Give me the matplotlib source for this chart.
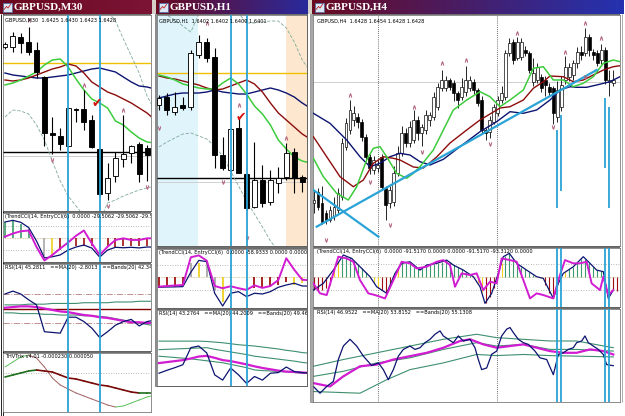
import numpy as np
import matplotlib.pyplot as plt
from matplotlib.patches import Rectangle
from matplotlib.colors import LinearSegmentedColormap

W, H = 625, 416

# ---------------- GBPUSD M30 (19 bars, price in pips above chart floor) ----------------
m30_open = [164, 164, 174, 169, 161, 134, 78, 75, 65, 102, 102, 91, 62, 18, 35, 52, 58, 67, 63]
m30_high = [169, 179, 178, 184, 169, 135, 94, 83, 104, 103, 121, 96, 63, 48, 59, 96, 66, 69, 66]
m30_low = [162, 159, 158, 156, 133, 65, 57, 61, 64, 89, 81, 63, 15, 11, 29, 44, 48, 29, 30]
m30_close = [167, 175, 168, 159, 139, 78, 76, 67, 103, 101, 89, 64, 17, 33, 53, 57, 65, 37, 56]
m30_ma_blue = [138, 136, 135, 134, 133, 133, 134, 135, 136, 138, 140, 142, 143, 141, 139, 134, 129, 125, 124, 122]
m30_ma_red = [131, 130, 131, 133, 136, 139, 142, 144, 147, 145, 138, 129, 124, 119, 116, 112, 108, 103, 98, 91]
m30_ma_green = [126, 128, 131, 135, 139, 146, 151, 152, 144, 132, 121, 112, 108, 103, 90, 86, 79, 73, 69, 68]
m30_bb_upper = [230, 235, 240, 245, 250, 255, 255, 250, 245, 240, 235, 225, 215, 200, 190, 172, 155, 138, 115, 100]
m30_bb_lower = [94, 101, 100, 97, 86, 71, 50, 30, 15, 5, -5, -10, -10, 8, 11, 15, 18, 21, 23, 25]
m30_up_bars, m30_up_lvl = [3, 10, 15], [191, 126, 101]
m30_dn_bars, m30_dn_lvl = [6, 13, 18], [51, 5, 24]
m30_tick = (11.6, 108)
m30_yellow, m30_black, m30_grey = 148, 59, 55
m30_signal_bars = [8, 12]
m30_cci_trend = [107, 118, 105, 70, -20, -133, -125, -113, -80, -60, -47, -67, -127, -80, -62, -65, -62, -66, -60, -60]
m30_cci_entry = [9, 30, 45, 50, -60, -150, -113, -70, -30, 15, 50, -36, -113, -58, -13, -2, -13, -13, -2, -2]
m30_cci_hist = [110, 115, 95, 60, 0, -120, -120, -80, -60, -55, -50, -55, 0, -55, -60, -55, -50, -50, -50]
m30_cci_codes = "ggggnkyrrrrrnrrrrrr"
m30_rsi = [70, 74, 70, 62, 55, 18, 17, 16, 38, 38, 32, 23, 10, 18, 27, 32, 35, 26, 32, 34]
m30_rsi_ma = [51, 52, 53, 53, 52, 50, 48, 46, 45, 43, 41, 40, 38, 37, 35, 33, 31, 31, 30, 30]
m30_rsi_up = [55, 55, 55, 56, 56, 56, 57, 57, 57, 57, 58, 58, 58, 58, 59, 59, 59, 60, 60, 60]
m30_rsi_lo = [44, 44, 43, 43, 43, 42, 42, 41, 41, 41, 40, 40, 39, 38, 36, 34, 32, 30, 28, 26]
m30_trix_main = [35, 37, 39, 41, 42, 41, 40, 37, 34, 33, 31, 29, 27, 26, 24, 22, 20, 19, 19, 19]
m30_trix_sig = [45, 50, 55, 57, 54, 45, 34, 27, 23, 19, 16, 13, 10, 7, 5, 6, 9, 12, 15, 17]
m30_trix_level = 39

# ---------------- GBPUSD H1 (19 bars) ----------------
h1_open = [141, 149, 134, 141, 139, 191, 204, 189, 91, 76, 118, 72, 39, 66, 44, 63, 69, 94, 69]
h1_high = [151, 153, 154, 149, 196, 211, 208, 198, 109, 118, 128, 73, 104, 81, 76, 79, 103, 98, 71]
h1_low = [136, 131, 131, 136, 136, 188, 184, 78, 76, 74, 73, 36, 38, 39, 41, 53, 66, 53, 54]
h1_close = [148, 136, 139, 138, 193, 204, 188, 91, 78, 117, 73, 38, 66, 43, 66, 68, 93, 68, 64]
h1_ma_blue = [148, 150, 152, 153, 153, 153, 154, 156, 154, 153, 152, 152, 154, 156, 158, 156, 153, 149, 143, 138]
h1_ma_red = [170, 168, 167, 165, 163, 161, 158, 156, 157, 160, 163, 166, 162, 154, 143, 133, 126, 119, 112, 107]
h1_ma_green = [171, 169, 166, 162, 160, 158, 157, 157, 163, 168, 162, 152, 140, 132, 121, 106, 97, 89, 85, 83]
h1_bb_upper = [235, 231, 226, 220, 214, 232, 240, 245, 245, 240, 233, 223, 223, 224, 225, 225, 218, 204, 186, 175]
h1_bb_lower = [99, 104, 108, 112, 113, 110, 107, 100, 90, 75, 60, 45, 32, 19, 5, -5, -15, -20, -25, -30]
h1_up_bars, h1_up_lvl = [6, 10, 16], [223, 141, 108]
h1_dn_bars, h1_dn_lvl = [0, 8, 11], [118, 64, 8]
h1_tick = (10.3, 129)
h1_yellow, h1_black, h1_grey = 173, 68, 64
h1_sessions = [(-0.5, 4.9, '#dff5fb'), (16.0, 19.0, '#fde8cf')]
h1_signal_bars = [9, 11]
h1_cci_trend = [-80, -78, -77, -75, 40, 135, 125, -128, -230, -128, -115, -155, -128, -134, -115, -80, -62, -48, -70, -70]
h1_cci_entry = [-75, -70, -66, -62, 160, 175, 133, -70, -88, -72, -88, -101, -65, -85, -70, -22, 152, 60, -20, -25]
h1_cci_hist = [-88, -80, -80, -60, 112, 112, 133, -101, -195, 0, 0, 0, -88, -80, -80, -61, -35, -61, -45]
h1_cci_codes = "rrrrkykkynnnrrrrryy"
h1_rsi = [43.3, 44.2, 45.0, 45.9, 51.1, 51.6, 49.5, 42.8, 41.2, 44.9, 42.8, 40.2, 42.3, 41.2, 43.3, 43.5, 45.2, 43.8, 43.5, 43.3]
h1_rsi_ma = [46.4, 46.7, 47.0, 47.3, 47.8, 48.4, 48.6, 48.0, 47.3, 47.0, 46.5, 46.0, 45.4, 44.9, 44.5, 44.1, 43.8, 43.7, 43.5, 43.4]
h1_rsi_up = [53.1, 53.1, 53.1, 53.1, 53.1, 53.1, 53.0, 52.8, 52.6, 52.3, 52.0, 51.8, 51.6, 51.3, 51.0, 50.7, 50.3, 50.0, 49.6, 49.4]
h1_rsi_mid = [50.5, 50.6, 50.7, 50.8, 50.9, 51.0, 51.1, 50.6, 50.2, 49.8, 49.4, 49.0, 48.5, 48.2, 47.9, 47.6, 47.3, 47.0, 46.6, 46.3]
h1_rsi_lo = [48.5, 48.3, 48.1, 47.9, 47.7, 47.4, 47.1, 46.8, 46.5, 46.0, 45.5, 45.0, 44.3, 44.1, 44.0, 43.8, 43.7, 43.5, 43.3, 43.2]

# ---------------- GBPUSD H4 (76 bars) ----------------
h4_open = [43, 54, 43, 33, 26, 30, 36, 49, 99, 116, 126, 129, 124, 109, 89, 76, 78, 89, 58, 43,
           44, 73, 93, 113, 103, 106, 126, 113, 116, 126, 129, 139, 158, 158, 166, 163, 153, 149, 154, 158,
           164, 156, 146, 116, 114, 124, 133, 146, 149, 193, 204, 188, 189, 196, 193, 164, 166, 169, 166, 159,
           158, 129, 139, 166, 169, 171, 183, 194, 193, 209, 194, 193, 186, 196, 164, 163]
h4_high = [56, 58, 60, 36, 40, 49, 58, 108, 128, 146, 140, 133, 127, 112, 92, 90, 86, 92, 60, 60,
           80, 100, 120, 118, 125, 136, 130, 122, 136, 134, 154, 163, 176, 170, 168, 166, 155, 168, 180, 170,
           167, 158, 150, 118, 130, 142, 150, 160, 196, 208, 207, 209, 208, 200, 195, 188, 183, 172, 170, 163,
           160, 165, 170, 190, 183, 186, 199, 200, 218, 212, 197, 196, 202, 199, 176, 176]
h4_low = [33, 36, 22, 22, 24, 26, 33, 46, 96, 112, 120, 118, 105, 85, 72, 72, 74, 56, 26, 38,
          40, 70, 90, 99, 99, 103, 106, 100, 112, 120, 126, 136, 155, 155, 156, 145, 138, 146, 150, 155,
          152, 140, 113, 106, 108, 122, 130, 143, 146, 190, 182, 186, 186, 190, 173, 160, 163, 154, 150, 150,
          122, 124, 135, 162, 165, 166, 178, 186, 190, 190, 186, 180, 182, 162, 150, 160]
h4_close = [46, 39, 24, 26, 36, 39, 53, 103, 123, 136, 133, 124, 109, 89, 78, 86, 81, 59, 41, 56,
            73, 93, 113, 103, 119, 126, 113, 119, 131, 131, 149, 159, 166, 166, 159, 153, 146, 159, 166, 166,
            156, 143, 116, 113, 126, 139, 146, 153, 193, 203, 186, 204, 204, 193, 176, 173, 179, 158, 161, 154,
            133, 156, 161, 179, 179, 183, 194, 191, 209, 196, 191, 183, 196, 166, 166, 166]
h4_ma_blue_x = [-0.16, 4.01, 8.19, 11.53, 14.04, 16.54, 19.05, 21.56, 24.06, 26.57, 29.08, 32.42, 36.59,
                41.61, 45.78, 49.13, 52.47, 55.81, 59.15, 61.66, 64.16, 65.83, 68.34, 70.85, 74.19, 76.69]
h4_ma_blue = [132.7, 122.7, 106, 89.3, 79.3, 82.7, 89.3, 92.7, 91, 84.3, 81, 86.7, 99.3,
              114.3, 124.3, 134.3, 132.7, 136, 146, 156, 159.3, 158.7, 158.7, 161, 164.3, 169.3]
h4_ma_red_x = [-0.16, 3.18, 6.52, 9.86, 12.37, 14.87, 17.38, 19.89, 21.56, 24.9, 27.4, 30.75, 34.09, 38.27, 41.61,
               44.95, 46.62, 49.13, 52.47, 54.97, 57.48, 59.15, 62.49, 65, 67.5, 70.01, 72.52, 75.02, 76.69]
h4_ma_red = [109.3, 89.3, 69.3, 59.3, 66, 82.7, 89.3, 87.7, 86, 79, 78, 89, 103, 116, 126,
             134, 138, 139.3, 146, 157.7, 164.3, 170, 169.3, 164.3, 166, 171, 176, 179.3, 180.3]
h4_ma_green_x = [-0.16, 2.34, 5.68, 8.61, 10.7, 13.2, 14.87, 16.54, 18.21, 20.72, 23.23, 24.9, 26.57, 29.91, 32.42, 34.92,
                 38.27, 41.61, 44.11, 46.62, 49.13, 52.47, 54.97, 57.48, 59.99, 62.49, 65, 67.5, 70.01, 72.52, 75.02, 76.69]
h4_ma_green = [87.7, 69.3, 52.7, 46, 59.3, 86, 97.7, 99.3, 89.3, 72.7, 67.7, 72.7, 79.3, 96, 116, 136,
               146, 154.3, 149.3, 139.3, 146, 156, 177.7, 179.3, 166, 166, 159.3, 162.7, 169.3, 182.7, 186, 184.3]
h4_trend_up = ([0.67, 70.85], [19.3, 176])
h4_trend_dn = ([-0.16, 16.13], [56, 9.3])
h4_up_bars = [9, 25, 32, 38, 51, 63, 68, 72]
h4_up_lvl = [151, 139, 183, 186, 213, 194, 223, 208]
h4_dn_bars = [3, 14, 19, 27, 44, 60, 68]
h4_dn_lvl = [6, 64, 21, 94, 102, 119, 169]
h4_grey = 164
h4_day_breaks = [16.0, 45.9]
h4_signal_bars = [61, 62, 73, 74]
h4_signal_lo = [38, 55, 78, 38]
h4_signal_hi = [116, 131, 148, 139]
h4_cci_trend_x = [-0.16, 2.34, 4.85, 7.35, 9.44, 11.53, 14.04, 15.71, 18.21, 20.3, 21.97, 24.06, 26.57, 28.24, 30.75,
                  33.25, 34.92, 37.43, 39.94, 41.61, 42.86, 44.53, 46.2, 47.45, 48.96, 50.8, 53.3, 55.81, 57.48,
                  59.99, 61.24, 62.49, 65, 67.5, 69.18, 70.85, 72.52, 73.77, 75.02]
h4_cci_trend = [-103, -51, 51, 167, 141, 77, 0, -77, -128, 26, 103, 115, 51, 90, 103, 128, 90, 51, 0, -77, -205,
                -128, 26, 154, 180, 103, 51, 0, -13, -167, -51, 26, 77, 154, 103, 51, 39, -167, -103]
h4_cci_entry_x = [-0.16, 1.51, 3.18, 4.85, 6.1, 8.19, 9.86, 11.53, 13.62, 15.29, 17.8, 20.3, 21.97, 24.06, 25.73,
                  28.24, 30.75, 32.42, 34.09, 35.34, 37.01, 39.1, 40.77, 42.44, 44.11, 45.78, 47.04, 49.13, 50.8,
                  52.47, 54.14, 55.81, 57.48, 59.99, 61.24, 62.91, 65, 66.67, 68.34, 69.59, 71.68, 72.52, 73.77, 75.02]
h4_cci_entry = [-51, -128, -141, 26, 154, 141, 115, -26, -128, -141, -167, 0, 115, 103, 64, 77, 115, 128, 90, -77,
                26, 13, 26, -103, -38, -51, 141, 128, 115, -26, -167, -128, -141, -167, -26, 128, 103, 103, 115,
                -51, -103, 0, -141, -103]
h4_cci_hist = [-100, -105, -100, -90, -60, 60, 110, 150, 160, 148, 124, 93, 67, 36, 0, -44, -83, -103, -124, -74,
               3, 58, 103, 109, 115, 77, 66, 64, 85, 96, 101, 106, 116, 126, 111, 89, 73, 58, 40, 19,
               -3, -49, -120, -200, -153, -85, 7, 108, 163, 179, 137, 99, 78, 57, 37, 16, -1, -9, -60, -126,
               -167, -75, -3, 38, 57, 77, 107, 138, 138, 108, 77, 48, 43, -70, -144, -103, -110]
h4_cci_codes = "rrrrryygggggggnyyrrryyggggggggggggggggggnyyrrryyggggggggyyrrrrrygggggggggyrrr"
h4_rsi_x = [-0.16, 1.51, 3.18, 4.85, 6.1, 7.35, 9.03, 10.7, 12.37, 14.46, 16.13, 17.38, 18.63, 19.89, 21.14, 22.39,
            24.06, 25.32, 26.57, 27.82, 29.08, 30.33, 31.58, 32.42, 33.67, 34.92, 36.18, 37.43, 39.1, 40.35, 41.19,
            42.02, 43.28, 44.53, 45.78, 47.04, 48.29, 49.13, 49.96, 51.21, 52.47, 53.72, 55.39, 56.64, 58.32,
            59.99, 61.24, 62.49, 63.74, 65, 65.83, 67.09, 67.92, 68.76, 70.01, 71.26, 72.52, 73.35, 75.02]
h4_rsi = [35.8, 32.2, 35.8, 38.5, 50.2, 57.4, 61, 57.4, 52, 47, 48.4, 44.8, 39.4, 44.8, 52, 55.6, 57.4, 55.6, 56.5,
          59.2, 61, 63.7, 65.5, 62.8, 61, 59.2, 62.8, 60.1, 61, 56.5, 50.2, 44.8, 45.7, 53, 54.7, 62.8, 66.4, 67.3,
          64.6, 61, 59.2, 58.3, 54.7, 51.1, 50.2, 42.1, 52.9, 53.8, 55.6, 56.5, 59.2, 60.1, 62.8, 59.2, 57.4, 55.6,
          52.9, 47.5, 46.9]
h4_rsi_ma_x = [-0.16, 4.01, 7.35, 11.53, 15.71, 19.89, 24.06, 28.24, 32.42, 36.59, 39.1, 42.44, 45.78, 49.13,
               52.47, 55.81, 59.15, 62.49, 65.83, 69.18, 72.52, 75.02]
h4_rsi_ma = [37.6, 35.8, 41.2, 46.6, 47.5, 50.2, 52, 53.8, 56.5, 60.1, 61, 58.3, 56.5, 57.4, 58.3, 56.5, 54.7,
             53.8, 53.8, 55.6, 54.7, 52.9]
h4_band_x = [-0.16, 7.35, 15.71, 24.06, 32.42, 40.77, 45.78, 52.47, 59.15, 65.83, 75.02]
h4_band_up = [46.6, 50.2, 53.8, 57.4, 61, 63.7, 61.9, 61, 60.1, 60.1, 56.5]
h4_band_mid = [41.2, 43.9, 48.4, 51.1, 55.6, 59.2, 57.4, 58.3, 55.6, 55.6, 54.7]
h4_band_lo_x = [-0.16, 11.53, 18.21, 24.06, 32.42, 40.77, 45.78, 52.47, 59.15, 65.83, 75.02]
h4_band_lo = [33.1, 32.2, 39.4, 44.8, 48.4, 52.9, 52.3, 52.9, 52.3, 52, 51.6]

CYAN = '#2aa3d6'
NAVY = '#0c1470'
DRED = '#8c0c0c'
LIME = '#3ccc3c'
MAGENTA = '#d21cd2'
BAND = '#3f8f6f'
MARK = '#b0607c'
HIST = {'g': '#3c9a6c', 'y': '#f0d020', 'r': '#a01010', 'k': '#a8a8a8'}

fig = plt.figure(figsize=(W / 100, H / 100), dpi=100)
fig.patch.set_facecolor('white')
bg = fig.add_axes([0, 0, 1, 1], zorder=-10)
bg.axis('off')


def panel(x0, y0, x1, y1, xlim, ylim):
    ax = fig.add_axes([x0 / W, 1 - y1 / H, (x1 - x0) / W, (y1 - y0) / H])
    ax.set_xlim(*xlim)
    ax.set_ylim(*ylim)
    ax.set_xticks([])
    ax.set_yticks([])
    for s in ax.spines.values():
        s.set_linewidth(0.5)
        s.set_color('#606060')
    return ax


def label(ax, text):
    ax.text(0.012, 0.985, text, transform=ax.transAxes, fontsize=3.6, va='top', ha='left',
            clip_on=True, zorder=10)


def candles(ax, o, h, l, c, width, lw):
    o, h, l, c = map(np.asarray, (o, h, l, c))
    x = np.arange(len(o))
    ax.vlines(x, l, h, color='black', lw=lw, zorder=3)
    lo = np.minimum(o, c)
    size = np.maximum(np.abs(c - o), 1.0)
    face = np.where(c >= o, 'white', 'black')
    ax.bar(x, size, width, bottom=lo, color=face, edgecolor='black', linewidth=lw * 0.8, zorder=4)


def fractals(ax, ux, uy, dx, dy):
    ax.scatter(ux, uy, marker='$\\wedge$', s=7, color=MARK, linewidths=0.3, zorder=6)
    ax.scatter(dx, dy, marker='$\\vee$', s=7, color=MARK, linewidths=0.3, zorder=6)


def cci_hist(ax, vals, codes, lw):
    assert len(vals) == len(codes)
    for i, (v, code) in enumerate(zip(vals, codes)):
        if code != 'n':
            ax.vlines(i, 0, v, color=HIST[code], lw=lw, zorder=2)


def slope_line(ax, vals, up_col, dn_col, lw):
    for i in range(len(vals) - 1):
        col = up_col if vals[i + 1] >= vals[i] else dn_col
        ax.plot([i, i + 1], [vals[i], vals[i + 1]], color=col, lw=lw, solid_capstyle='round')


def signals(axes, bars):
    for ax in axes:
        for b in bars:
            ax.axvline(b, color=CYAN, lw=1.3, zorder=7)


# ---- window frames and title bars ----
bg.add_patch(Rectangle((0, 0), W, H, fc='white', ec='none'))
bg.add_patch(Rectangle((152, 0), 4, 14, fc='#d4d0c8', ec='none'))
bg.add_patch(Rectangle((308, 0), 4, 14, fc='#d4d0c8', ec='none'))
bg.add_patch(Rectangle((3, 14), 148, 398, fc='#6e6e6e', ec='none'))
bg.add_patch(Rectangle((157, 14), 151, 373, fc='#6e6e6e', ec='none'))
bg.add_patch(Rectangle((154.5, 14), 2.5, 373, fc='#8c8c8c', ec='none'))
bg.add_patch(Rectangle((313, 14), 307, 388, fc='#6e6e6e', ec='none'))
bg.add_patch(Rectangle((310, 14), 3, 388, fc='#a8a8a8', ec='#707070', lw=0.4))
bg.vlines([0.8, 2.6], 14, 416, color='black', lw=0.6)
bg.vlines([621.5], 14, 402, color='#a0a0a0', lw=0.6)


def title_bar(x0, x1, c0, c1, text):
    cm = LinearSegmentedColormap.from_list('t', [c0, c1])
    bg.imshow(np.linspace(0, 1, 128)[None, :], cmap=cm, extent=(x0, x1, 14, 0), aspect='auto', zorder=1)
    bg.add_patch(Rectangle((x0 + 2.5, 2.5), 9, 9, fc='#dce6f4', ec='#4a6ea8', lw=0.5, zorder=2))
    bg.plot([x0 + 4, x0 + 6.5, x0 + 8, x0 + 10.5], [9.5, 6.5, 8, 4.5], color='#c02020', lw=0.6, zorder=3)
    bg.text(x0 + 14, 7.6, text, color='white', fontsize=8, fontweight='bold', family='Liberation Serif',
            va='center', ha='left', zorder=3)


title_bar(0, 152, '#6a0a20', '#7c1436', 'GBPUSD,M30')
title_bar(156, 308, '#6a0a20', '#2a2a9c', 'GBPUSD,H1')
title_bar(312, 624, '#6a0a20', '#2432b0', 'GBPUSD,H4')
bg.set_xlim(0, W)
bg.set_ylim(H, 0)

# ---- M30 window ----
xl = (-0.25, 18.5)
m_main = panel(3, 15, 151, 211, xl, (0, 196))
m_cci = panel(3, 213, 151, 262, xl, (-160, 167))
m_rsi = panel(3, 264, 151, 351, xl, (-8.6, 111.4))
m_trx = panel(3, 353, 151, 412, xl, (0, 59))

x20 = np.arange(20)
m_main.axhline(m30_yellow, color='#f0c000', lw=1.0)
m_main.axhline(m30_grey, color='#c8c8c8', lw=0.6)
m_main.axhline(m30_black, color='black', lw=1.0)
m_main.plot(x20, m30_bb_upper, color='#7fa89a', lw=0.6, ls=(0, (4, 2)))
m_main.plot(x20, m30_bb_lower, color='#7fa89a', lw=0.6, ls=(0, (4, 2)))
m_main.plot(x20, m30_ma_blue, color=NAVY, lw=1.0)
m_main.plot(x20, m30_ma_red, color=DRED, lw=1.0)
m_main.plot(x20, m30_ma_green, color=LIME, lw=1.1)
candles(m_main, m30_open, m30_high, m30_low, m30_close, 0.62, 0.8)
fractals(m_main, m30_up_bars, m30_up_lvl, m30_dn_bars, m30_dn_lvl)
m_main.text(*m30_tick, '\u2714', color='#d41010', fontsize=9, ha='center', va='center', zorder=8)
label(m_main, 'GBPUSD,M30  1.6425 1.6430 1.6423 1.6428')

m_cci.axhline(0, color='#c8b88a', lw=0.6, ls=(0, (1, 1)))
for lv in (80, -80):
    m_cci.axhline(lv, color='#a0a0a0', lw=0.6, ls=(0, (1, 2)))
cci_hist(m_cci, m30_cci_hist, m30_cci_codes, 1.2)
m_cci.plot(x20, m30_cci_trend, color=NAVY, lw=0.9, zorder=4)
m_cci.plot(x20, m30_cci_entry, color=MAGENTA, lw=1.4, zorder=5)
label(m_cci, '(TrendCCI(14, EntryCCI(6)  0.0000 -29.5062 -29.5062 -29.5062 -29.5062')

for lv in (70, 30):
    m_rsi.axhline(lv, color='#c09090', lw=0.7, ls='-.')
m_rsi.axhline(50, color='#800000', lw=1.0)
m_rsi.plot(x20, m30_rsi_up, color=BAND, lw=0.8)
m_rsi.plot(x20, m30_rsi_lo, color=BAND, lw=0.8)
m_rsi.plot(x20, m30_rsi_ma, color=MAGENTA, lw=1.6)
m_rsi.plot(x20, m30_rsi, color=NAVY, lw=0.9)
label(m_rsi, 'RSI(14) 45.2811   ==MA(20) -2.8013   ==Bands(20) 42.3468')

m_trx.axhline(m30_trix_level, color='#a0a0a0', lw=0.6, ls=(0, (1, 2)))
slope_line(m_trx, m30_trix_sig, '#5cc05c', '#a06060', 0.7)
slope_line(m_trx, m30_trix_main, '#1f6f1f', '#7a0a0a', 1.2)
label(m_trx, 'THVTrix v4.01 -0.000230 0.000050')
signals([m_main, m_cci, m_rsi, m_trx], m30_signal_bars)

# ---- H1 window ----
xl = (-0.25, 18.6)
h_main = panel(157, 15, 307, 246, xl, (0, 231))
h_cci = panel(157, 249, 307, 308, xl, (-246, 226))
h_rsi = panel(157, 310, 307, 386, xl, (39.4, 62.6))

for a, b, col in h1_sessions:
    h_main.axvspan(a, b, color=col, lw=0, zorder=0)
h_main.axhline(h1_yellow, color='#f0c000', lw=1.0)
h_main.axhline(h1_grey, color='#c8c8c8', lw=0.6)
h_main.axhline(h1_black, color='black', lw=1.0)
h_main.plot(x20, h1_bb_upper, color='#7fa89a', lw=0.6, ls=(0, (4, 2)))
h_main.plot(x20, h1_bb_lower, color='#7fa89a', lw=0.6, ls=(0, (4, 2)))
h_main.plot(x20, h1_ma_blue, color=NAVY, lw=1.0)
h_main.plot(x20, h1_ma_red, color=DRED, lw=1.0)
h_main.plot(x20, h1_ma_green, color=LIME, lw=1.1)
candles(h_main, h1_open, h1_high, h1_low, h1_close, 0.62, 0.8)
fractals(h_main, h1_up_bars, h1_up_lvl, h1_dn_bars, h1_dn_lvl)
h_main.text(*h1_tick, '\u2714', color='#d41010', fontsize=9, ha='center', va='center', zorder=8)
label(h_main, 'GBPUSD,H1  1.6402 1.6402 1.6400 1.6401')

h_cci.axhline(0, color='#c8b88a', lw=0.6, ls=(0, (1, 1)))
for lv in (100, -100):
    h_cci.axhline(lv, color='#a0a0a0', lw=0.6, ls=(0, (1, 2)))
cci_hist(h_cci, h1_cci_hist, h1_cci_codes, 1.3)
h_cci.plot(x20, h1_cci_trend, color=NAVY, lw=0.9, zorder=4)
h_cci.plot(x20, h1_cci_entry, color=MAGENTA, lw=1.4, zorder=5)
label(h_cci, '(TrendCCI(14, EntryCCI(6)  0.0000 -58.9333 0.0000 0.0000 -58.9334')

h_rsi.plot(x20, h1_rsi_up, color=BAND, lw=0.8)
h_rsi.plot(x20, h1_rsi_mid, color=BAND, lw=0.8)
h_rsi.plot(x20, h1_rsi_lo, color=BAND, lw=0.8)
h_rsi.plot(x20, h1_rsi_ma, color=MAGENTA, lw=1.6)
h_rsi.plot(x20, h1_rsi, color=NAVY, lw=0.9)
label(h_rsi, 'RSI(14) 43.2764   ==MA(20) 44.2009   ==Bands(20) 49.4636')
signals([h_main, h_cci, h_rsi], h1_signal_bars)

# ---- H4 window ----
xl = (-0.25, 76.7)
f_main = panel(313, 15, 620, 246, xl, (0, 231))
f_cci = panel(313, 248, 620, 307, xl, (-233, 221))
f_rsi = panel(313, 309, 620, 402, xl, (27.5, 77.2))

f_main.axhline(h4_grey, color='#c8c8c8', lw=0.6)
f_main.plot(h4_ma_blue_x, h4_ma_blue, color=NAVY, lw=1.0, zorder=5)
f_main.plot(h4_ma_red_x, h4_ma_red, color=DRED, lw=1.0, zorder=5)
f_main.plot(h4_ma_green_x, h4_ma_green, color=LIME, lw=1.1, zorder=5)
f_main.plot(*h4_trend_up, color=CYAN, lw=1.6, zorder=5)
f_main.plot(*h4_trend_dn, color=CYAN, lw=1.6, zorder=5)
candles(f_main, h4_open, h4_high, h4_low, h4_close, 0.7, 0.6)
fractals(f_main, h4_up_bars, h4_up_lvl, h4_dn_bars, h4_dn_lvl)
f_main.vlines(h4_signal_bars, h4_signal_lo, h4_signal_hi, color=CYAN, lw=1.3, zorder=7)
label(f_main, 'GBPUSD,H4  1.6428 1.6454 1.6428 1.6428')

f_cci.axhline(0, color='#c8b88a', lw=0.6, ls=(0, (1, 1)))
for lv in (100, -100):
    f_cci.axhline(lv, color='#a0a0a0', lw=0.6, ls=(0, (1, 2)))
cci_hist(f_cci, h4_cci_hist, h4_cci_codes, 0.8)
f_cci.plot(h4_cci_trend_x, h4_cci_trend, color=NAVY, lw=0.9, zorder=4)
f_cci.plot(h4_cci_entry_x, h4_cci_entry, color=MAGENTA, lw=1.4, zorder=5)
label(f_cci, '(TrendCCI(14, EntryCCI(6)  0.0000 -91.5170 0.0000 0.0000 -91.5170 -93.3120 0.0000')

f_rsi.plot(h4_band_x, h4_band_up, color=BAND, lw=0.8)
f_rsi.plot(h4_band_x, h4_band_mid, color=BAND, lw=0.8)
f_rsi.plot(h4_band_lo_x, h4_band_lo, color=BAND, lw=0.8)
f_rsi.plot(h4_rsi_ma_x, h4_rsi_ma, color=MAGENTA, lw=1.6)
f_rsi.plot(h4_rsi_x, h4_rsi, color=NAVY, lw=0.9)
label(f_rsi, 'RSI(14) 46.9522   ==MA(20) 53.8152   ==Bands(20) 55.1308')
for ax in (f_main, f_cci, f_rsi):
    for d in h4_day_breaks:
        ax.axvline(d, color='#404040', lw=0.6, ls=(0, (1, 1.5)), zorder=1)
signals([f_cci, f_rsi], h4_signal_bars)

fig.savefig('out.png', dpi=100)
